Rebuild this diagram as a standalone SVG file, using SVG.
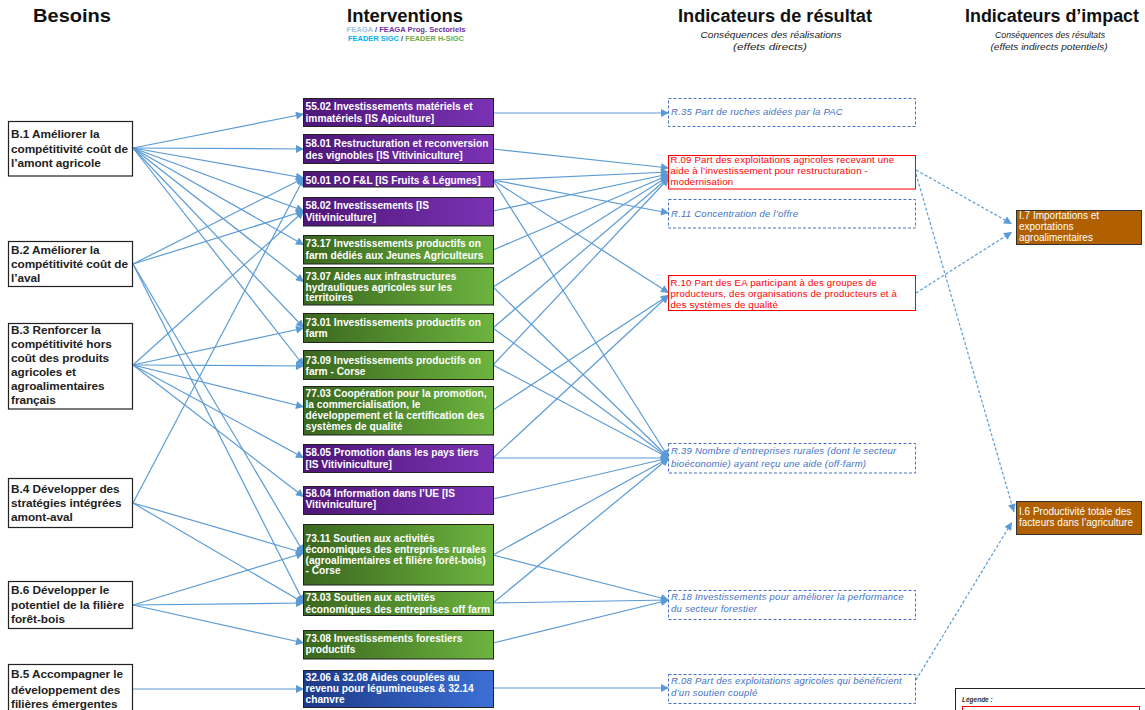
<svg xmlns="http://www.w3.org/2000/svg" width="1145" height="710" viewBox="0 0 1145 710">
<defs>
<linearGradient id="gP" x1="0" x2="1" y1="0" y2="0"><stop offset="0" stop-color="#4e1677"/><stop offset="1" stop-color="#7a32b4"/></linearGradient>
<linearGradient id="gG" x1="0" x2="1" y1="0" y2="0"><stop offset="0" stop-color="#3a671f"/><stop offset="1" stop-color="#6db43f"/></linearGradient>
<linearGradient id="gB" x1="0" x2="1" y1="0" y2="0"><stop offset="0" stop-color="#1d3a8a"/><stop offset="1" stop-color="#3c70d6"/></linearGradient>
<marker id="ar" viewBox="0 0 10 10" refX="10" refY="5" markerWidth="9" markerHeight="8" markerUnits="userSpaceOnUse" orient="auto"><path d="M0,0 L10,5 L0,10 z" fill="#5b9bd5"/></marker>
</defs>
<style>
.hd{font-family:"Liberation Sans",Arial,sans-serif;font-weight:bold;font-size:17.5px;fill:#111;text-anchor:middle}
.sub{font-family:"Liberation Sans",Arial,sans-serif;font-style:italic;font-size:9px;fill:#222;text-anchor:middle}
.leg{font-family:"Liberation Sans",Arial,sans-serif;font-weight:bold;font-size:7px;text-anchor:middle}
.need rect{fill:#fff;stroke:#222;stroke-width:1.2}
.need text{font-family:"Liberation Sans",Arial,sans-serif;font-weight:bold;font-size:11.8px;letter-spacing:-0.05px;fill:#222}
.iv rect{stroke:#222;stroke-width:1}
.iv text{font-family:"Liberation Sans",Arial,sans-serif;font-weight:bold;font-size:10.2px;fill:#fff}
.rd rect{fill:#fff;stroke:#4472c4;stroke-width:1;stroke-dasharray:3,2}
.rd text{font-family:"Liberation Sans",Arial,sans-serif;font-style:italic;font-size:9.6px;letter-spacing:0.2px;fill:#4472c4}
.rr rect{fill:#fff;stroke:#ff0000;stroke-width:1}
.rr text{font-family:"Liberation Sans",Arial,sans-serif;font-size:9.6px;letter-spacing:0.2px;fill:#ff0000}
.im rect{fill:#b06000;stroke:#333;stroke-width:1}
.im text{font-family:"Liberation Sans",Arial,sans-serif;font-size:10px;fill:#fff}
.c line{stroke:#5b9bd5;stroke-width:1.2;marker-end:url(#ar)}
.c line.d{stroke-dasharray:3,2}
</style>
<rect width="1145" height="710" fill="#fff"/>
<text class="hd" x="72" y="22" textLength="78" lengthAdjust="spacingAndGlyphs">Besoins</text>
<text class="hd" x="405" y="22" textLength="116" lengthAdjust="spacingAndGlyphs">Interventions</text>
<text class="leg" x="406" y="31.5" textLength="119" lengthAdjust="spacingAndGlyphs"><tspan fill="#9dc3e6">FEAGA</tspan><tspan fill="#7030a0">  / FEAGA Prog. Sectoriels</tspan></text>
<text class="leg" x="406" y="41" textLength="116" lengthAdjust="spacingAndGlyphs"><tspan fill="#00b0f0">FEADER SIGC</tspan><tspan fill="#444"> / </tspan><tspan fill="#70ad47">FEADER H-SIGC</tspan></text>
<text class="hd" x="775" y="22" textLength="194" lengthAdjust="spacingAndGlyphs">Indicateurs de résultat</text>
<text class="sub" x="771" y="38" textLength="141" lengthAdjust="spacingAndGlyphs">Conséquences  des réalisations</text>
<text class="sub" x="770" y="49.5" textLength="74" lengthAdjust="spacingAndGlyphs">(effets directs)</text>
<text class="hd" x="1052" y="22" textLength="174" lengthAdjust="spacingAndGlyphs">Indicateurs d’impact</text>
<text class="sub" x="1050" y="38" textLength="110" lengthAdjust="spacingAndGlyphs">Conséquences  des résultats</text>
<text class="sub" x="1049" y="49.5" textLength="117" lengthAdjust="spacingAndGlyphs">(effets indirects potentiels)</text>

<g class="c" id="connectors">
<line x1="133" y1="148" x2="304" y2="114"/>
<line x1="133" y1="148" x2="304" y2="149"/>
<line x1="133" y1="148" x2="304" y2="178"/>
<line x1="133" y1="148" x2="304" y2="211"/>
<line x1="133" y1="148" x2="304" y2="245"/>
<line x1="133" y1="148" x2="304" y2="282"/>
<line x1="133" y1="148" x2="304" y2="328"/>
<line x1="133" y1="148" x2="304" y2="366"/>
<line x1="133" y1="264" x2="304" y2="178"/>
<line x1="133" y1="264" x2="304" y2="211"/>
<line x1="133" y1="264" x2="304" y2="553"/>
<line x1="133" y1="264" x2="304" y2="603"/>
<line x1="133" y1="365" x2="304" y2="211"/>
<line x1="133" y1="365" x2="304" y2="328"/>
<line x1="133" y1="365" x2="304" y2="366"/>
<line x1="133" y1="365" x2="304" y2="407"/>
<line x1="133" y1="365" x2="304" y2="458"/>
<line x1="133" y1="365" x2="304" y2="497"/>
<line x1="133" y1="503" x2="304" y2="178"/>
<line x1="133" y1="503" x2="304" y2="553"/>
<line x1="133" y1="503" x2="304" y2="603"/>
<line x1="133" y1="605" x2="304" y2="553"/>
<line x1="133" y1="605" x2="304" y2="603"/>
<line x1="133" y1="605" x2="304" y2="643"/>
<line x1="133" y1="689" x2="304" y2="689"/>

<line x1="493" y1="113" x2="669" y2="113"/>
<line x1="493" y1="149" x2="669" y2="168"/>
<line x1="493" y1="180" x2="669" y2="172"/>
<line x1="493" y1="180" x2="669" y2="213"/>
<line x1="493" y1="180" x2="669" y2="293"/>
<line x1="493" y1="180" x2="669" y2="458"/>
<line x1="493" y1="211" x2="669" y2="174"/>
<line x1="493" y1="250" x2="669" y2="175"/>
<line x1="493" y1="287" x2="669" y2="176"/>
<line x1="493" y1="287" x2="669" y2="458"/>
<line x1="493" y1="328" x2="669" y2="177"/>
<line x1="493" y1="328" x2="669" y2="458"/>
<line x1="493" y1="365" x2="669" y2="178"/>
<line x1="493" y1="365" x2="669" y2="458"/>
<line x1="493" y1="410" x2="669" y2="295"/>
<line x1="493" y1="458" x2="669" y2="458"/>
<line x1="493" y1="458" x2="669" y2="295"/>
<line x1="493" y1="499" x2="669" y2="458"/>
<line x1="493" y1="555" x2="669" y2="458"/>
<line x1="493" y1="555" x2="669" y2="600"/>
<line x1="493" y1="603" x2="669" y2="458"/>
<line x1="493" y1="603" x2="669" y2="600"/>
<line x1="493" y1="643" x2="669" y2="600"/>
<line x1="493" y1="688" x2="669" y2="688"/>

<line class="d" x1="916" y1="170" x2="1012" y2="224"/>
<line class="d" x1="916" y1="293" x2="1012" y2="232"/>
<line class="d" x1="916" y1="174" x2="1014" y2="512"/>
<line class="d" x1="916" y1="680" x2="1012" y2="522"/>
</g>

<g class="need" id="B1"><rect x="8.5" y="121.5" width="124" height="54.5"/><text><tspan x="11" y="138">B.1 Améliorer la</tspan><tspan x="11" y="152.5">compétitivité coût de</tspan><tspan x="11" y="167">l’amont agricole</tspan></text></g>
<g class="need" id="B2"><rect x="8.5" y="241.5" width="124" height="45"/><text><tspan x="11" y="254">B.2 Améliorer la</tspan><tspan x="11" y="268">compétitivité coût de</tspan><tspan x="11" y="282">l’aval</tspan></text></g>
<g class="need" id="B3"><rect x="8.5" y="323.5" width="124" height="85.5"/><text><tspan x="11" y="333.5">B.3 Renforcer la</tspan><tspan x="11" y="347.5">compétitivité hors</tspan><tspan x="11" y="362">coût des produits</tspan><tspan x="11" y="376">agricoles et</tspan><tspan x="11" y="390">agroalimentaires</tspan><tspan x="11" y="404">français</tspan></text></g>
<g class="need" id="B4"><rect x="8.5" y="478.5" width="124" height="49"/><text><tspan x="11" y="492.5">B.4 Développer des</tspan><tspan x="11" y="507">stratégies intégrées</tspan><tspan x="11" y="521">amont-aval</tspan></text></g>
<g class="need" id="B6"><rect x="8.5" y="581.5" width="124" height="47"/><text><tspan x="11" y="593.5">B.6 Développer le</tspan><tspan x="11" y="609">potentiel de la filière</tspan><tspan x="11" y="623">forêt-bois</tspan></text></g>
<g class="need" id="B5"><rect x="8.5" y="664.5" width="124" height="50"/><text><tspan x="11" y="678">B.5 Accompagner le</tspan><tspan x="11" y="693.5">développement des</tspan><tspan x="11" y="707.5">filières émergentes</tspan></text></g>

<g class="iv" id="I5502"><rect x="303.5" y="98.5" width="190" height="28" fill="url(#gP)"/><text><tspan x="305.5" y="110">55.02 Investissements matériels et</tspan><tspan x="305.5" y="122">immatériels [IS Apiculture]</tspan></text></g>
<g class="iv" id="I5801"><rect x="303.5" y="134.5" width="190" height="29" fill="url(#gP)"/><text><tspan x="305.5" y="146.5">58.01 Restructuration et reconversion</tspan><tspan x="305.5" y="158.5">des vignobles [IS Vitiviniculture]</tspan></text></g>
<g class="iv" id="I5001"><rect x="303.5" y="171.5" width="190" height="15.5" fill="url(#gP)"/><text><tspan x="305.5" y="183.5">50.01 P.O F&amp;L [IS Fruits &amp; Légumes]</tspan></text></g>
<g class="iv" id="I5802"><rect x="303.5" y="197.5" width="190" height="28.5" fill="url(#gP)"/><text><tspan x="305.5" y="208.5">58.02 Investissements [IS</tspan><tspan x="305.5" y="220.5">Vitiviniculture]</tspan></text></g>
<g class="iv" id="I7317"><rect x="303.5" y="235.5" width="190" height="28.5" fill="url(#gG)"/><text><tspan x="305.5" y="247">73.17 Investissements productifs on</tspan><tspan x="305.5" y="258.5">farm dédiés aux Jeunes Agriculteurs</tspan></text></g>
<g class="iv" id="I7307"><rect x="303.5" y="267.5" width="190" height="37.5" fill="url(#gG)"/><text><tspan x="305.5" y="280">73.07 Aides aux infrastructures</tspan><tspan x="305.5" y="290.5">hydrauliques agricoles sur les</tspan><tspan x="305.5" y="301">territoires</tspan></text></g>
<g class="iv" id="I7301"><rect x="303.5" y="313.5" width="190" height="29" fill="url(#gG)"/><text><tspan x="305.5" y="326">73.01 Investissements productifs on</tspan><tspan x="305.5" y="337">farm</tspan></text></g>
<g class="iv" id="I7309"><rect x="303.5" y="350.5" width="190" height="29" fill="url(#gG)"/><text><tspan x="305.5" y="363.5">73.09 Investissements productifs on</tspan><tspan x="305.5" y="374.5">farm - Corse</tspan></text></g>
<g class="iv" id="I7703"><rect x="303.5" y="386.5" width="190" height="48.5" fill="url(#gG)"/><text><tspan x="305.5" y="396.5">77.03  Coopération pour la promotion,</tspan><tspan x="305.5" y="408">la commercialisation, le</tspan><tspan x="305.5" y="418.5">développement et la certification des</tspan><tspan x="305.5" y="430">systèmes  de qualité</tspan></text></g>
<g class="iv" id="I5805"><rect x="303.5" y="444.5" width="190" height="28" fill="url(#gP)"/><text><tspan x="305.5" y="456">58.05 Promotion dans les pays tiers</tspan><tspan x="305.5" y="467.5">[IS Vitiviniculture]</tspan></text></g>
<g class="iv" id="I5804"><rect x="303.5" y="486.5" width="190" height="28" fill="url(#gP)"/><text><tspan x="305.5" y="497">58.04 Information dans l’UE [IS</tspan><tspan x="305.5" y="508">Vitiviniculture]</tspan></text></g>
<g class="iv" id="I7311"><rect x="303.5" y="524.5" width="190" height="60.5" fill="url(#gG)"/><text><tspan x="305.5" y="541.5">73.11  Soutien aux activités</tspan><tspan x="305.5" y="552.5">économiques des entreprises rurales</tspan><tspan x="305.5" y="563.5">(agroalimentaires et filière forêt-bois)</tspan><tspan x="305.5" y="573.5">- Corse</tspan></text></g>
<g class="iv" id="I7303"><rect x="303.5" y="591.5" width="190" height="24" fill="url(#gG)"/><text><tspan x="305.5" y="601">73.03  Soutien aux activités</tspan><tspan x="305.5" y="612.5">économiques des entreprises off farm</tspan></text></g>
<g class="iv" id="I7308"><rect x="303.5" y="630.5" width="190" height="28.5" fill="url(#gG)"/><text><tspan x="305.5" y="642">73.08  Investissements forestiers</tspan><tspan x="305.5" y="653">productifs</tspan></text></g>
<g class="iv" id="I3206"><rect x="303.5" y="670.5" width="190" height="37" fill="url(#gB)"/><text><tspan x="305.5" y="680.5">32.06 à 32.08 Aides  couplées au</tspan><tspan x="305.5" y="691.5">revenu pour légumineuses &amp; 32.14</tspan><tspan x="305.5" y="702.5">chanvre</tspan></text></g>

<g class="rd" id="R35"><rect x="668.5" y="98.5" width="247" height="28"/><text x="671" y="114.5">R.35 Part de ruches aidées par la PAC</text></g>
<g class="rr" id="R09"><rect x="668.5" y="155.5" width="247" height="33.5"/><text><tspan x="670.5" y="162.5">R.09 Part des exploitations agricoles recevant une</tspan><tspan x="670.5" y="173.5">aide à l’investissement pour restructuration -</tspan><tspan x="670.5" y="184.5">modernisation</tspan></text></g>
<g class="rd" id="R11"><rect x="668.5" y="199.5" width="247" height="28.5"/><text x="671" y="216.5">R.11 Concentration  de l’offre</text></g>
<g class="rr" id="R10"><rect x="668.5" y="275.5" width="247" height="35"/><text><tspan x="670.5" y="285.5">R.10 Part des EA participant à des groupes de</tspan><tspan x="670.5" y="296.5">producteurs, des organisations de producteurs et à</tspan><tspan x="670.5" y="307.5">des systèmes de qualité</tspan></text></g>
<g class="rd" id="R39"><rect x="668.5" y="443.5" width="247" height="29.5"/><text><tspan x="671" y="453.5">R.39 Nombre  d’entreprises rurales (dont le secteur</tspan><tspan x="671" y="466.5">bioéconomie)  ayant reçu une aide (off-farm)</tspan></text></g>
<g class="rd" id="R18"><rect x="668.5" y="590.5" width="247" height="29"/><text><tspan x="671" y="600">R.18 Investissements pour améliorer  la performance</tspan><tspan x="671" y="611.5">du secteur forestier</tspan></text></g>
<g class="rd" id="R08"><rect x="668.5" y="674.5" width="247" height="29"/><text><tspan x="671" y="683.5">R.08 Part des exploitations agricoles qui bénéficient</tspan><tspan x="671" y="695.5">d’un soutien couplé</tspan></text></g>

<g class="im" id="I7"><rect x="1016.5" y="210.5" width="125" height="34"/><text><tspan x="1019" y="218.5">I.7 Importations et</tspan><tspan x="1019" y="229.5">exportations</tspan><tspan x="1019" y="240.5">agroalimentaires</tspan></text></g>
<g class="im" id="I6"><rect x="1016.5" y="501.5" width="125" height="33"/><text><tspan x="1019" y="515">I.6 Productivité totale des</tspan><tspan x="1019" y="526">facteurs dans l’agriculture</tspan></text></g>

<g id="legend"><rect x="955.5" y="688.5" width="195" height="30" fill="#fff" stroke="#222" stroke-width="1"/><text x="962" y="702" font-family="Liberation Sans,Arial,sans-serif" font-size="6.5" font-style="italic" font-weight="bold" fill="#333">Légende :</text><rect x="962.5" y="706.5" width="177" height="10" fill="#fff" stroke="#ff0000" stroke-width="1"/></g>
</svg>
